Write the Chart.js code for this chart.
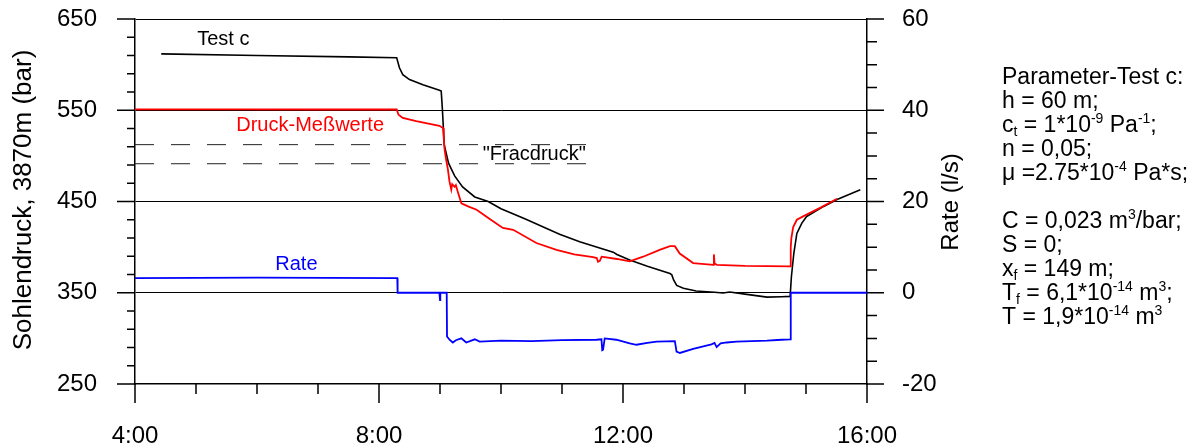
<!DOCTYPE html>
<html>
<head>
<meta charset="utf-8">
<script src="https://cdn.jsdelivr.net/npm/chart.js@4.4.1/dist/chart.umd.min.js"></script>
<style>
  html, body { margin: 0; padding: 0; background: #fff; }
  #wrap { width: 1203px; height: 448px; }
</style>
</head>
<body>
<div id="wrap"><canvas id="chart" width="1203" height="448"></canvas></div>
<script>
// Zeit in Stunden, Druck in bar, Rate in l/s

// Test c (Modellkurve)
const modelTime = [4.43, 6.0, 7.5, 8.29, 8.335, 8.39, 8.5, 8.72, 8.99, 9.02, 9.04, 9.07, 9.14, 9.24, 9.37,
  9.57, 9.79, 10.0, 10.39, 10.96, 11.29, 11.84, 11.9, 12.11, 12.4, 12.77, 12.8, 12.83, 12.88, 12.99,
  13.2, 13.5, 13.64, 13.75, 14.0, 14.36, 14.6, 14.74, 14.76, 14.8, 14.85, 14.93, 15.01, 15.29, 15.5, 15.89];
const modelPressure = [611.8, 610, 608.5, 607.5, 596.5, 589, 583.6, 578, 572, 571, 550, 512, 492, 478, 466,
  455, 450, 442, 431, 414, 406, 394.5, 392, 386, 379, 371, 369.6, 364, 358, 355,
  352, 350.5, 349.8, 350.8, 348.5, 345.2, 345.6, 346, 367, 393, 415, 426, 433.6, 444.6, 452, 462.9];

// Druck-Messwerte
const measTime = [4.0, 5.5, 7.0, 8.29, 8.32, 8.39, 8.61, 8.99, 9.05, 9.06, 9.075, 9.1, 9.13, 9.155, 9.175,
  9.185, 9.2, 9.24, 9.26, 9.29, 9.35, 9.46, 9.6, 9.81, 10.03, 10.2, 10.58, 10.91, 11.2, 11.51,
  11.57, 11.59, 11.62, 11.65, 11.9, 12.11, 12.33, 12.6, 12.77, 12.85, 12.93, 13.15, 13.48, 13.49, 13.5,
  13.54, 14.0, 14.74, 14.75, 14.76, 14.79, 14.85, 14.96, 15.23, 15.51];
const measPressure = [551, 551, 550.8, 550.8, 545, 541.6, 538, 533, 530.5, 521, 507, 496, 485, 472, 466,
  463, 469, 466, 468, 461, 448, 444.6, 441, 431, 421, 419, 404.5, 397, 392, 389,
  388, 384, 385, 389.5, 387, 384.5, 389.5, 397, 401, 401, 393, 382.5, 380.6, 392, 382,
  380.6, 379.5, 379, 400, 410, 422, 430, 434, 443, 453];

// Rate
const rateTime = [4.0, 6.0, 8.3, 8.305, 8.99, 9.0, 9.005, 9.11, 9.115, 9.156, 9.21, 9.26, 9.35, 9.43, 9.57,
  9.65, 10.0, 10.5, 11.0, 11.565, 11.647, 11.66, 11.673, 11.7, 11.89, 12.11, 12.22, 12.4, 12.55, 12.85,
  12.878, 12.933, 13.15, 13.45, 13.5, 13.535, 13.6, 13.7, 13.86, 14.36, 14.6, 14.739, 14.75, 16.0];
const rateValue = [3.2, 3.3, 3.2, 0, 0, -1.6, 0, 0, -9.6, -10.3, -10.9, -10.4, -10.0, -10.9, -10.2,
  -10.7, -10.5, -10.6, -10.4, -10.3, -10.2, -12.6, -12.5, -10.0, -10.3, -11.1, -11.4, -11.0, -10.7, -10.6,
  -12.9, -13.2, -12.3, -11.3, -11.0, -11.9, -11.1, -10.9, -10.7, -10.5, -10.3, -10.2, 0, 0];

// "Fracdruck"-Niveaus
const fracTime = [4.0, 11.49];
const fracUpper = [512.3, 512.3];
const fracLower = [491.4, 491.4];

// beschriftete Ticks
const timeLabels = [4, 8, 12, 16];
const pressureLabels = [250, 350, 450, 550, 650];
const rateLabels = [-20, 0, 20, 40, 60];

const paramLines = [
  [['Parameter-Test c:']],
  [['h = 60 m;']],
  [['c'], ['t', 'sub'], [' = 1*10'], ['-9', 'sup'], [' Pa'], ['-1', 'sup'], [';']],
  [['n = 0,05;']],
  [['\u03bc =2.75*10'], ['-4', 'sup'], [' Pa*s;']],
  [],
  [['C = 0,023 m'], ['3', 'sup'], ['/bar;']],
  [['S = 0;']],
  [['x'], ['f', 'sub'], [' = 149 m;']],
  [['T'], ['f', 'sub'], [' = 6,1*10'], ['-14', 'sup'], [' m'], ['3', 'sup'], [';']],
  [['T = 1,9*10'], ['-14', 'sup'], [' m'], ['3', 'sup']]
];

const FONT = "'Liberation Sans', Arial, sans-serif";
Chart.defaults.font.family = FONT;
Chart.defaults.color = '#000';

const xy = (ts, vs) => ts.map((t, i) => ({ x: t, y: vs[i] }));

// kurze und lange Tickstriche, Achsentitel, Kurvenbeschriftungen
const decorations = {
  id: 'decorations',
  afterDatasetsDraw(chart) {
    const { ctx, chartArea: a, scales: { x, y, y1 } } = chart;
    ctx.save();
    ctx.strokeStyle = '#000';
    ctx.lineWidth = 1.5;
    ctx.beginPath();
    y.ticks.forEach(t => {
      const py = y.getPixelForValue(t.value);
      const len = pressureLabels.includes(t.value) ? 18 : 8;
      ctx.moveTo(a.left - len, py); ctx.lineTo(a.left, py);
    });
    y1.ticks.forEach(t => {
      const py = y1.getPixelForValue(t.value);
      const len = rateLabels.includes(t.value) ? 17 : 10;
      ctx.moveTo(a.right, py); ctx.lineTo(a.right + len, py);
    });
    x.ticks.forEach(t => {
      const px = x.getPixelForValue(t.value);
      const len = timeLabels.includes(t.value) ? 19 : 10;
      ctx.moveTo(px, a.bottom); ctx.lineTo(px, a.bottom + len);
    });
    ctx.stroke();

    // Kurvenbeschriftungen
    ctx.textBaseline = 'middle';
    ctx.textAlign = 'left';
    ctx.font = '20px ' + FONT;
    const lbl = (text, color, t, v, sc) => {
      ctx.fillStyle = color;
      ctx.fillText(text, x.getPixelForValue(t), sc.getPixelForValue(v));
    };
    lbl('Test c', '#000', 5.02, 627.5, y);
    lbl('Druck-Meßwerte', '#ff0000', 5.66, 533.7, y);
    lbl('Rate', '#0000ff', 6.3, 6.3, y1);
    lbl('"Fracdruck"', '#000', 9.7, 501.5, y);

    // Achsentitel
    ctx.fillStyle = '#000';
    ctx.textAlign = 'center';
    ctx.save();
    ctx.translate(24, 200);
    ctx.rotate(-Math.PI / 2);
    ctx.font = '26px ' + FONT;
    ctx.fillText('Sohlendruck, 3870m (bar)', 0, 0);
    ctx.restore();
    ctx.save();
    ctx.translate(951, 202);
    ctx.rotate(-Math.PI / 2);
    ctx.font = '24px ' + FONT;
    ctx.fillText('Rate (l/s)', 0, 0);
    ctx.restore();

    // Parameterblock
    ctx.textAlign = 'left';
    ctx.textBaseline = 'alphabetic';
    paramLines.forEach((line, i) => {
      let px = 1002;
      const base = 84 + i * 24;
      line.forEach(([txt, mode]) => {
        let dy = 0;
        if (mode === 'sup') { ctx.font = '14px ' + FONT; dy = -9; }
        else if (mode === 'sub') { ctx.font = '14px ' + FONT; dy = 4; }
        else ctx.font = '23px ' + FONT;
        ctx.fillText(txt, px, base + dy);
        px += ctx.measureText(txt).width;
      });
    });
    ctx.restore();
  }
};

const majorGrid = [350, 450, 550, 650];
// Tick-Beschriftungen sollen keinen zusätzlichen Rand oben/unten erzeugen
const fixVertical = w => s => { s.width = w; s.paddingTop = 0; s.paddingBottom = 0; };

new Chart(document.getElementById('chart'), {
  type: 'line',
  data: {
    datasets: [
      { data: xy(fracTime, fracUpper), yAxisID: 'y', borderColor: '#222', borderWidth: 1, borderDash: [19, 17] },
      { data: xy(fracTime, fracLower), yAxisID: 'y', borderColor: '#222', borderWidth: 1, borderDash: [19, 17] },
      { label: 'Rate', data: xy(rateTime, rateValue), yAxisID: 'y1', borderColor: '#0000ff', borderWidth: 1.8 },
      { label: 'Druck-Meßwerte', data: xy(measTime, measPressure), yAxisID: 'y', borderColor: '#ff0000', borderWidth: 1.8 },
      { label: 'Test c', data: xy(modelTime, modelPressure), yAxisID: 'y', borderColor: '#000', borderWidth: 1.6 }
    ]
  },
  options: {
    responsive: false,
    animation: false,
    events: [],
    elements: { point: { radius: 0 }, line: { tension: 0, fill: false } },
    layout: { padding: { left: 0, right: 0, top: 19, bottom: 0 } },
    plugins: { legend: { display: false }, tooltip: { enabled: false } },
    scales: {
      x: {
        type: 'linear', min: 4, max: 16,
        afterFit: s => { s.height = 64; s.paddingLeft = 0; s.paddingRight = 0; },
        grid: { display: false, drawTicks: false },
        border: { display: true, color: '#000', width: 1.5 },
        ticks: {
          stepSize: 1, autoSkip: false, maxRotation: 0, padding: 38,
          font: { size: 24 },
          callback: v => timeLabels.includes(v) ? v + ':00' : ''
        }
      },
      y: {
        position: 'left', min: 250, max: 650,
        afterFit: fixVertical(135),
        grid: {
          drawTicks: false, lineWidth: 1,
          color: c => majorGrid.includes(c.tick.value) ? '#000' : 'rgba(0,0,0,0)'
        },
        border: { display: true, color: '#000', width: 1.5 },
        ticks: {
          stepSize: 20, autoSkip: false, padding: 38,
          font: { size: 24 },
          callback: v => pressureLabels.includes(v) ? String(v) : ''
        }
      },
      y1: {
        position: 'right', min: -20, max: 60,
        afterFit: fixVertical(336),
        grid: { display: false, drawTicks: false },
        border: { display: true, color: '#000', width: 1.5 },
        ticks: {
          stepSize: 5, autoSkip: false, padding: 35,
          font: { size: 24 },
          callback: v => rateLabels.includes(v) ? String(v) : ''
        }
      }
    }
  },
  plugins: [decorations]
});
</script>
</body>
</html>
